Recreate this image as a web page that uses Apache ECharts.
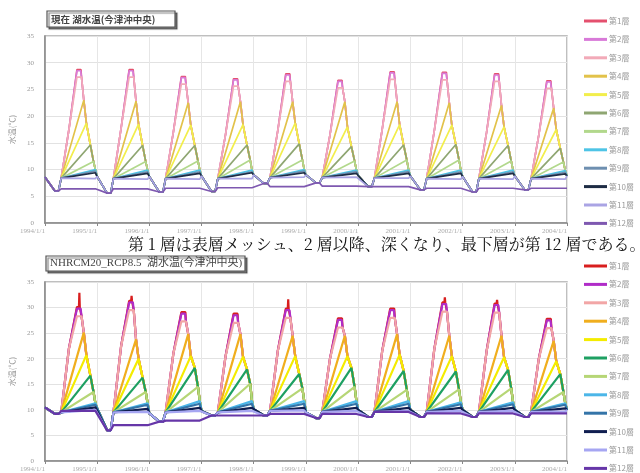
<!DOCTYPE html>
<html>
<head>
<meta charset="utf-8">
<script src="https://cdn.jsdelivr.net/npm/echarts@6/dist/echarts.min.js"></script>
<style>
html, body { margin: 0; padding: 0; background: #fff; }
#chart { width: 640px; height: 473px; }
</style>
</head>
<body>
<div id="chart"></div>
<script>
// ---- time frame -------------------------------------------------------
const years = [1994, 1995, 1996, 1997, 1998, 1999, 2000, 2001, 2002, 2003];
const xTicks = [1994, 1995, 1996, 1997, 1998, 1999, 2000, 2001, 2002, 2003, 2004];
const yTicks = [0, 5, 10, 15, 20, 25, 30, 35];
const layerNames = ['第1層', '第2層', '第3層', '第4層', '第5層', '第6層',
                    '第7層', '第8層', '第9層', '第10層', '第11層', '第12層'];

// Seasonal key days (day of year) used for every year
const dayWinterLow = 70, dayMinEnd = 95, dayOnset = 114, dayEarly = 168, daySurfTop = 224;
const peakDay = [252, 250, 256, 272, 290, 318, 340];   // layers 1-7 reach their maximum
const dayDeep = 353;                                      // end of stratified season

// ---- present climate (現在) ------------------------------------------
const nowJan   = [8.6, 8.7, 8.7, 8.8, 9.0, 9.0, 8.9, 8.8, 8.7, 8.8, 8.8]; // Jan 1 (1994-2004)
const nowMin   = [6.0, 5.6, 5.8, 5.9, 7.4, 7.5, 6.8, 6.2, 5.8, 6.2];
const nowOnset = [8.4, 8.3, 8.3, 8.3, 8.5, 8.5, 8.4, 8.3, 8.3, 8.3];
const nowEarly = [17.5, 17.8, 17.0, 16.6, 17.3, 16.5, 17.5, 17.4, 17.0, 16.5];
const nowSpike = [null, null, null, null, null, null, null, null, null, null];
const nowL1  = [28.7, 28.7, 27.4, 27.0, 27.9, 26.7, 28.3, 28.2, 27.9, 26.6];
const nowL2  = [28.5, 28.5, 27.2, 26.8, 27.7, 26.5, 28.1, 28.0, 27.7, 26.4];
const nowL3  = [27.3, 27.3, 26.0, 25.6, 26.5, 25.3, 26.9, 26.8, 26.5, 25.2];
const nowL4  = [23.0, 22.8, 22.5, 22.7, 22.7, 22.7, 22.7, 22.5, 22.0, 21.5];
const nowL5  = [18.7, 18.5, 18.3, 18.4, 18.7, 18.0, 18.4, 18.3, 18.0, 17.5];
const nowL6  = [14.6, 14.5, 14.5, 14.6, 14.8, 14.3, 14.6, 14.7, 14.5, 14.0];
const nowL7  = [11.5, 11.5, 11.6, 11.8, 11.8, 11.6, 11.8, 11.8, 11.6, 11.4];
const nowL8  = [10.0, 9.9, 9.9, 9.9, 10.0, 9.9, 9.9, 9.9, 9.9, 9.8];
const nowL9  = [9.7, 9.6, 9.6, 9.6, 9.7, 9.6, 9.6, 9.6, 9.6, 9.5];
const nowL10 = [9.4, 9.3, 9.3, 9.4, 9.4, 9.3, 9.3, 9.3, 9.3, 9.2];
const nowL11 = [8.3, 8.2, 8.2, 8.3, 8.6, 8.6, 8.4, 8.2, 8.2, 8.2];
const nowL12 = [6.4, 6.4, 6.5, 6.6, 6.8, 6.9, 6.8, 6.5, 6.5, 6.5];

// ---- future scenario (NHRCM20_RCP8.5) --------------------------------
const futJan   = [10.5, 10.3, 9.3, 9.8, 10.1, 9.5, 10.0, 10.0, 10.0, 10.0, 10.0];
const futMin   = [9.2, 6.0, 7.7, 8.9, 8.9, 8.4, 8.6, 8.6, 8.6, 8.6];
const futOnset = [9.5, 9.5, 9.5, 9.5, 9.8, 9.6, 9.6, 9.6, 9.6, 9.6];
const futEarly = [22.0, 22.5, 21.0, 20.5, 21.5, 20.0, 21.5, 22.0, 21.5, 20.0];
const futSpike = [32.9, 32.3, null, null, 31.6, null, null, 32.0, 31.5, null];
const futL1  = [30.1, 31.3, 29.1, 28.8, 29.8, 27.9, 29.8, 31.0, 30.8, 27.8];
const futL2  = [29.8, 31.0, 28.8, 28.5, 29.5, 27.6, 29.5, 30.7, 30.5, 27.5];
const futL3  = [28.3, 29.5, 27.3, 27.0, 28.0, 26.1, 28.0, 29.2, 29.0, 26.0];
const futL4  = [25.1, 23.8, 24.8, 24.8, 24.5, 24.5, 24.8, 24.5, 24.5, 23.5];
const futL5  = [20.7, 20.0, 20.5, 20.4, 20.5, 20.5, 20.8, 20.5, 20.3, 19.5];
const futL6  = [16.7, 16.3, 18.2, 17.9, 17.0, 18.2, 17.6, 17.5, 17.8, 17.0];
const futL7  = [13.5, 13.5, 14.5, 15.1, 14.2, 14.5, 13.9, 14.0, 14.2, 13.5];
const futL8  = [11.3, 11.3, 11.7, 11.7, 11.7, 11.7, 11.7, 11.5, 11.5, 11.3];
const futL9  = [11.0, 11.0, 11.2, 11.2, 11.2, 11.2, 11.2, 11.1, 11.1, 11.0];
const futL10 = [10.5, 10.2, 10.4, 10.4, 10.4, 10.4, 10.4, 10.4, 10.4, 10.3];
const futL11 = [10.0, 9.6, 9.8, 9.8, 9.9, 9.8, 9.8, 9.8, 9.8, 9.7];
const futL12 = [9.8, 7.0, 7.9, 8.9, 9.2, 9.2, 9.6, 9.3, 9.3, 9.3];

const nowColors = ['#e4506e', '#d87ad8', '#f2aab8', '#e2c24a', '#f2ee4c', '#8fa672',
                   '#b2d88c', '#4ec4e6', '#6e8fb0', '#1e2c44', '#aaa4e4', '#7e58b0'];
const futColors = ['#d81e1e', '#b02cc8', '#f2a6a6', '#f0ae1e', '#f4ec00', '#1ea062',
                   '#b6d676', '#4cb6e8', '#3474a8', '#101e50', '#a6a6f2', '#6636a8'];

// ---- series construction ----------------------------------------------
function buildLayer(k, P) {
  const L = P.layers;
  const f = d => d / 365;
  const pts = [];
  years.forEach((yr, i) => {
    if (k === 11) {
      const prev = i === 0 ? P.jan[0] : L[11][i - 1];
      pts.push([yr, prev], [yr + f(dayWinterLow), P.min[i]], [yr + f(dayMinEnd), P.min[i]],
               [yr + f(dayOnset), L[11][i]], [yr + f(dayDeep), L[11][i]]);
      return;
    }
    pts.push([yr, P.jan[i]], [yr + f(dayWinterLow), P.min[i]], [yr + f(dayMinEnd), P.min[i]],
             [yr + f(dayOnset), P.onset[i]]);
    if (k <= 6) {
      if (k <= 2) pts.push([yr + f(dayEarly), P.early[i]], [yr + f(daySurfTop), L[k][i]]);
      if (k === 0 && P.spike[i] != null) {
        pts.push([yr + f(238), L[0][i]], [yr + f(241), P.spike[i]], [yr + f(244), L[0][i]]);
      }
      pts.push([yr + f(peakDay[k]), L[k][i]]);
      for (let j = k + 1; j <= 6; j++) {
        if (peakDay[j] > peakDay[k]) pts.push([yr + f(peakDay[j]), L[j][i]]);
      }
      pts.push([yr + f(dayDeep), L[7][i]]);
    } else {
      pts.push([yr + f(dayDeep), L[k][i]]);
    }
  });
  pts.push([2004, k === 11 ? L[11][years.length - 1] : P.jan[years.length]]);
  return pts;
}

const nowP = { jan: nowJan, min: nowMin, onset: nowOnset, early: nowEarly, spike: nowSpike,
  layers: [nowL1, nowL2, nowL3, nowL4, nowL5, nowL6, nowL7, nowL8, nowL9, nowL10, nowL11, nowL12] };
const futP = { jan: futJan, min: futMin, onset: futOnset, early: futEarly, spike: futSpike,
  layers: [futL1, futL2, futL3, futL4, futL5, futL6, futL7, futL8, futL9, futL10, futL11, futL12] };

const futSuffix = ' ';
const series = [];
layerNames.forEach((name, k) => {
  series.push({
    name: name, type: 'line', xAxisIndex: 0, yAxisIndex: 0,
    data: buildLayer(k, nowP), showSymbol: false, symbol: 'none', animation: false,
    lineStyle: { color: nowColors[k], width: 1.7 }, itemStyle: { color: nowColors[k] }
  });
});
layerNames.forEach((name, k) => {
  series.push({
    name: name + futSuffix, type: 'line', xAxisIndex: 1, yAxisIndex: 1,
    data: buildLayer(k, futP), showSymbol: false, symbol: 'none', animation: false,
    lineStyle: { color: futColors[k], width: 2.2 }, itemStyle: { color: futColors[k] }
  });
});

function xAxisCfg(gridIndex) {
  return {
    type: 'value', gridIndex: gridIndex, min: xTicks[0], max: xTicks[xTicks.length - 1], interval: 1,
    axisLine: { lineStyle: { color: '#888', width: 1.5 } },
    axisTick: { show: true, length: 3, lineStyle: { color: '#888' } },
    axisLabel: { color: '#aaa', fontSize: 7, margin: 5, align: 'right',
                 formatter: v => v + '/1/1', fontFamily: 'Liberation Serif' },
    splitLine: { show: true, lineStyle: { color: '#e6e6e6', width: 1 } }
  };
}
function yAxisCfg(gridIndex) {
  return {
    type: 'value', gridIndex: gridIndex, min: yTicks[0], max: yTicks[yTicks.length - 1], interval: 5,
    name: '水温(℃)', nameLocation: 'middle', nameGap: 27, nameRotate: 90,
    nameTextStyle: { color: '#999', fontSize: 8, fontFamily: 'Noto Sans CJK JP' },
    axisLine: { show: true, lineStyle: { color: '#888', width: 1.5 } },
    axisTick: { show: false },
    axisLabel: { color: '#999', fontSize: 7, margin: 11, fontFamily: 'Liberation Serif' },
    splitLine: { show: true, lineStyle: { color: '#e2e2e2', width: 1 } }
  };
}

function legendCfg(top, names, suffix) {
  return {
    orient: 'vertical', left: 584, top: top, height: 240, padding: 0, itemGap: 8.4,
    itemWidth: 23, itemHeight: 3, icon: 'rect',
    data: names.map(n => n + suffix),
    formatter: n => n.trim(),
    textStyle: { color: '#999', fontSize: 8, lineHeight: 10, fontFamily: 'Noto Sans CJK JP', padding: [0, 0, 0, -3] },
    selectedMode: false
  };
}

function titleBox(x, y, w, h, text, font) {
  return {
    type: 'group', x: x, y: y, children: [
      { type: 'rect', shape: { x: 0, y: 0, width: w, height: h },
        style: { fill: '#fff', stroke: '#555', lineWidth: 1.2,
                 shadowBlur: 1, shadowOffsetX: 2, shadowOffsetY: 2, shadowColor: 'rgba(0,0,0,0.5)' } },
      { type: 'text', x: 4, y: h / 2,
        style: { text: text, font: font, fill: '#444', verticalAlign: 'middle' } }
    ]
  };
}

const chart = echarts.init(document.getElementById('chart'), null, { renderer: 'canvas' });
chart.setOption({
  animation: false,
  backgroundColor: '#fff',
  grid: [
    { left: 43, top: 36, width: 524, height: 187, show: true, borderColor: '#aaa', borderWidth: 1.5 },
    { left: 43, top: 282, width: 524, height: 187, show: true, borderColor: '#aaa', borderWidth: 1.5 }
  ],
  xAxis: [xAxisCfg(0), xAxisCfg(1)],
  yAxis: [yAxisCfg(0), yAxisCfg(1)],
  legend: [legendCfg(16, layerNames, ''), legendCfg(261, layerNames, futSuffix)],
  graphic: [
    titleBox(47, 11, 128, 16, '現在 湖水温(今津沖中央)', 'bold 9.5px "Noto Sans CJK JP"'),
    titleBox(46, 256, 199, 15, 'NHRCM20_RCP8.5  湖水温(今津沖中央)', '11px "Liberation Serif", "Noto Sans CJK JP"'),
    { type: 'text', x: 128, y: 244,
      style: { text: '第 1 層は表層メッシュ、2 層以降、深くなり、最下層が第 12 層である。',
               font: '16px "Noto Serif CJK JP", "Noto Sans CJK JP"', fill: '#111', verticalAlign: 'middle' } }
  ],
  series: series
});
</script>
</body>
</html>
